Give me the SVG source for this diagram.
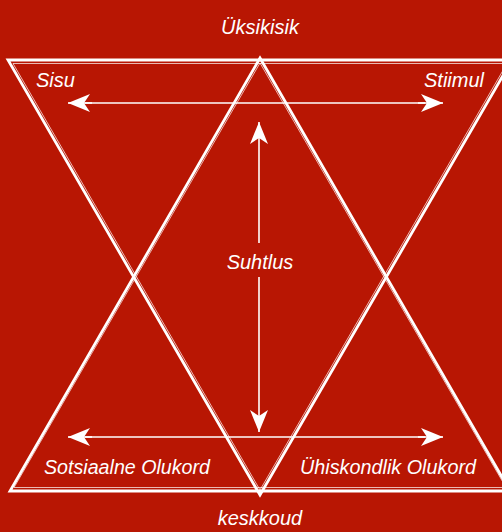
<svg xmlns="http://www.w3.org/2000/svg" width="502" height="532" viewBox="0 0 502 532">
<style>
.tri{fill:none;stroke:#fff;stroke-width:2.8;stroke-linejoin:miter}
.tri2{fill:none;stroke:#fff;stroke-width:1;opacity:0.7}
.con{fill:none;stroke:#fff;stroke-width:1.6}
.lbl{font-family:"Liberation Sans","DejaVu Sans",sans-serif;font-style:italic;fill:#fff;font-size:20px}
</style>
<defs>
<marker id="ah" viewBox="0 0 22 18" refX="22" refY="9" markerWidth="22" markerHeight="18" markerUnits="userSpaceOnUse" orient="auto">
<path d="M0,0 L22,9 L0,18 L6,9 Z" fill="#fff"/>
</marker>
</defs>
<rect width="502" height="532" fill="#B81603"/>
<g id="shapes">
<polygon class="tri" points="8,60 512,60 260,495"/>
<polygon class="tri2" points="13,63.5 507,63.5 260,490"/>
<polygon class="tri" points="260,58 510,491 10,491"/>
<polygon class="tri2" points="260,63 506,487.5 14,487.5"/>
</g>
<g id="connectors">
<line class="con" x1="92" y1="103" x2="68" y2="103" marker-end="url(#ah)"/>
<line class="con" x1="418" y1="103" x2="443" y2="103" marker-end="url(#ah)"/>
<line class="con" x1="85" y1="103" x2="425" y2="103"/>
<line class="con" x1="92" y1="437" x2="68" y2="437" marker-end="url(#ah)"/>
<line class="con" x1="418" y1="437" x2="443" y2="437" marker-end="url(#ah)"/>
<line class="con" x1="85" y1="437" x2="425" y2="437"/>
<line class="con" x1="259" y1="243" x2="259" y2="122" marker-end="url(#ah)"/>
<line class="con" x1="259" y1="277" x2="259" y2="432" marker-end="url(#ah)"/>
</g>
<g id="n-uksikisik"><text class="lbl" x="260" y="34" text-anchor="middle">Üksikisik</text></g>
<g id="n-sisu"><text class="lbl" x="36" y="87">Sisu</text></g>
<g id="n-stiimul"><text class="lbl" x="484" y="87" text-anchor="end">Stiimul</text></g>
<g id="n-suhtlus"><text class="lbl" x="260" y="269" text-anchor="middle">Suhtlus</text></g>
<g id="n-sotsiaalne"><text class="lbl" x="44" y="474" textLength="166" lengthAdjust="spacingAndGlyphs">Sotsiaalne Olukord</text></g>
<g id="n-uhiskondlik"><text class="lbl" x="300" y="474" textLength="176" lengthAdjust="spacingAndGlyphs">Ühiskondlik Olukord</text></g>
<g id="n-keskkoud"><text class="lbl" x="260" y="525" text-anchor="middle">keskkoud</text></g>
</svg>
